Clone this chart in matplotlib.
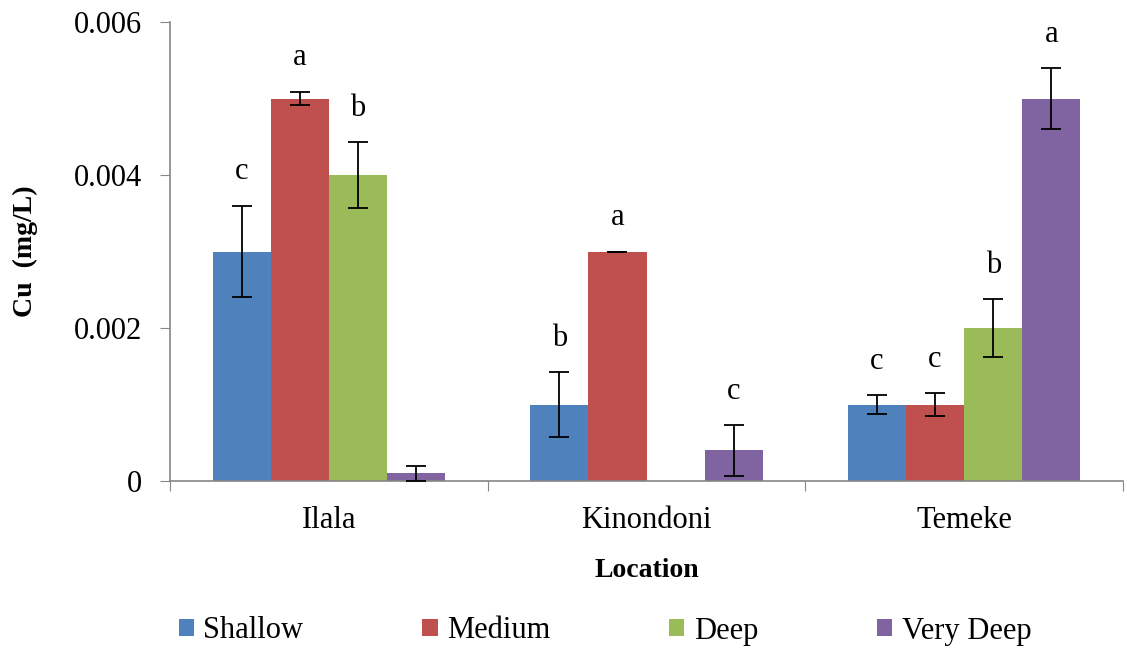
import matplotlib
matplotlib.use("Agg")
import matplotlib.pyplot as plt
import numpy as np

plt.rcParams['font.family'] = ['Liberation Serif', 'DejaVu Serif']

locations = ["Ilala", "Kinondoni", "Temeke"]
series = ["Shallow", "Medium", "Deep", "Very Deep"]
values = {
    "Shallow":   [0.003, 0.001, 0.001],
    "Medium":    [0.005, 0.003, 0.001],
    "Deep":      [0.004, 0.0, 0.002],
    "Very Deep": [0.0001, 0.0004, 0.005],
}
errors = {
    "Shallow":   [0.0006, 0.00042, 0.00012],
    "Medium":    [0.00009, 0.0, 0.00015],
    "Deep":      [0.00043, 0.0, 0.00038],
    "Very Deep": [0.0001, 0.00033, 0.0004],
}
letters = {
    "Shallow":   ["c", "b", "c"],
    "Medium":    ["a", "a", "c"],
    "Deep":      ["b", "", "b"],
    "Very Deep": ["", "c", "a"],
}
colors = ["#4F81BD", "#C0504D", "#9BBB59", "#8064A2"]
yticks = [0, 0.002, 0.004, 0.006]
ytick_labels = ["0", "0.002", "0.004", "0.006"]

fig = plt.figure(figsize=(11.27, 6.5), dpi=100)
ax = fig.add_axes([170/1127, 1-481/650, (1123-170)/1127, (481-22)/650])

x = np.arange(len(locations))
w = 0.183
for i, s in enumerate(series):
    xs = x + (i - 1.5) * w
    vals = values[s]
    errs = errors[s]
    ax.bar(xs, vals, width=w, color=colors[i], label=s, zorder=2)
    for xi, v, e, lab in zip(xs, vals, errs, letters[s]):
        if v > 0:
            ax.errorbar(xi, v, yerr=e, fmt='none', ecolor='black',
                        elinewidth=1.3, capsize=7, capthick=1.3, zorder=3)
        if lab:
            ax.annotate(lab, (xi, v + e), xytext=(0, 19), textcoords='offset points',
                        ha='center', va='baseline', fontsize=22)

ax.set_xlim(-0.5, 2.5)
ax.set_ylim(0, 0.006)
ax.set_yticks(yticks)
ax.set_yticklabels(ytick_labels, fontsize=22)
ax.set_xticks([-0.5, 0.5, 1.5, 2.5])
ax.set_xticklabels([])
ax.set_xticks(x, minor=True)
ax.set_xticklabels(locations, minor=True, fontsize=22)
ax.tick_params(axis='x', which='major', direction='out', length=7, color='#868686')
ax.tick_params(axis='x', which='minor', length=0, pad=18)
ax.tick_params(axis='y', direction='out', length=7, color='#868686', pad=13)

for sp in ['top', 'right']:
    ax.spines[sp].set_visible(False)
for sp in ['left', 'bottom']:
    ax.spines[sp].set_color('#868686')
    ax.spines[sp].set_linewidth(1.2)

ax.set_ylabel("Cu  (mg/L)", fontsize=20, fontweight='bold')
ax.yaxis.set_label_coords(-(170-38)/953, 0.5)
ax.set_xlabel("Location", fontsize=20, fontweight='bold')
ax.xaxis.set_label_coords(0.5, -(558-481)/459)

handles, labels = ax.get_legend_handles_labels()
fig.legend(handles, labels, loc='center', bbox_to_anchor=(605/1127, 1-631/650),
           ncol=4, frameon=False, fontsize=22, handlelength=0.5, handleheight=0.5,
           handletextpad=0.3, columnspacing=3.9)

fig.savefig("out.png", dpi=100)
